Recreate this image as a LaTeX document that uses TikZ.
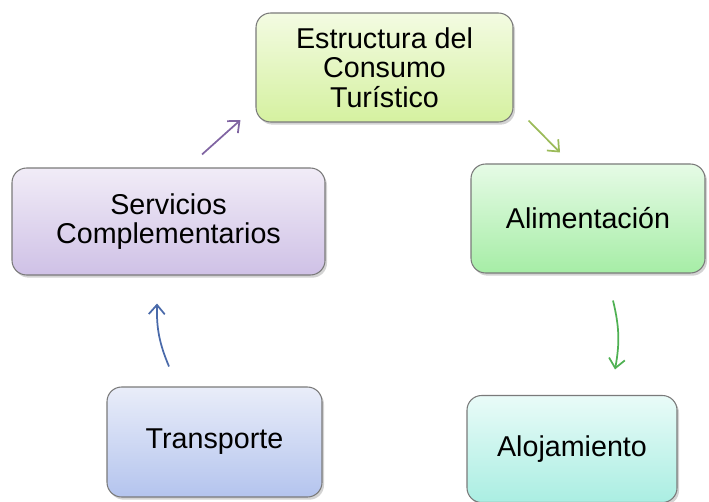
\documentclass[tikz,border=0pt]{standalone}
\usepackage{fontspec}
\setmainfont{Liberation Sans}
\usetikzlibrary{arrows.meta,shadows,calc}
\definecolor{boxline}{HTML}{7A7A7A}
\definecolor{estA}{HTML}{F3FBE2}
\definecolor{estB}{HTML}{D5F1A0}
\definecolor{serA}{HTML}{F1ECF7}
\definecolor{serB}{HTML}{CFC1E6}
\definecolor{aliA}{HTML}{E6FBE6}
\definecolor{aliB}{HTML}{A6EDA6}
\definecolor{traA}{HTML}{E9EDF9}
\definecolor{traB}{HTML}{B4C4EE}
\definecolor{aloA}{HTML}{E9FBF8}
\definecolor{aloB}{HTML}{AAEEE2}
\definecolor{arrP}{HTML}{8064A2}
\definecolor{arrL}{HTML}{9BBB59}
\definecolor{arrG}{HTML}{4FB153}
\definecolor{arrB}{HTML}{4A6AAA}
\tikzset{
  box/.style={draw=boxline, line width=0.8pt, rounded corners=11pt, align=center,
    inner sep=0pt, font=\fontsize{21.5}{22}\selectfont,
    drop shadow={shadow xshift=1.5pt, shadow yshift=-2pt, opacity=0.35}},
  arr/.style={line width=1.3pt, -{Straight Barb[length=7pt,width=12pt]}},
}
\begin{document}
\begin{tikzpicture}[x=0.75pt,y=-0.75pt]
    \useasboundingbox (0,0) rectangle (709,502);
    \node [box, top color=estA, bottom color=estB, minimum width=192.75pt, minimum height=81.75pt]
      (A0_1) at (384.5,67.5) {Estructura del\\Consumo\\Turístico};
    \node [box, top color=serA, bottom color=serB, minimum width=234.75pt, minimum height=80.25pt]
      (A1_0) at (168.5,221.5) {Servicios\\Complementarios};
    \node [box, top color=aliA, bottom color=aliB, minimum width=175.5pt, minimum height=81.75pt]
      (A1_2) at (588,218.5) {Alimentación};
    \node [box, top color=traA, bottom color=traB, minimum width=161.25pt, minimum height=82.5pt]
      (A2_0) at (214.5,442) {Transporte};
    \node [box, top color=aloA, bottom color=aloB, minimum width=157.5pt, minimum height=80.25pt]
      (A2_2) at (572,449) {Alojamiento};
    \path ($(A1_0.north)+(33.5,-13)$) edge [arr, draw=arrP] ($(A0_1.west)+(-15,52.5)$);
    \path ($(A0_1.south east)+(15,-2)$) edge [arr, draw=arrL] ($(A1_2.north)+(-28,-11)$);
    \path ($(A1_2.south)+(25,27)$) edge [arr, draw=arrG, bend left=12] ($(A2_2.north)+(43,-25.5)$);
    \path ($(A2_0.north)+(-45.5,-20)$) edge [arr, draw=arrB, bend left=12] ($(A1_0.south)+(-11.5,28)$);
\end{tikzpicture}
\end{document}
